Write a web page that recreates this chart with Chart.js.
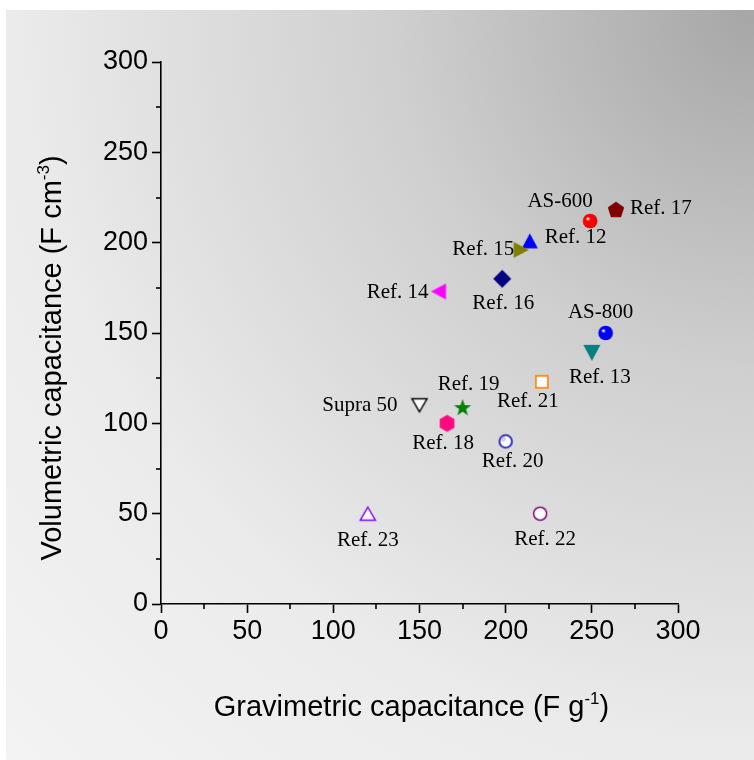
<!DOCTYPE html>
<html><head><meta charset="utf-8">
<script src="https://cdn.jsdelivr.net/npm/chart.js@4"></script>
<style>html,body{margin:0;padding:0;background:#fff;overflow:hidden}
canvas{display:block}</style></head><body>
<canvas id="c" width="754" height="760"></canvas>
<script>
// ---- data ----
const names = ['AS-600','Ref. 17','Ref. 12','Ref. 15','Ref. 16','Ref. 14','AS-800','Ref. 13','Ref. 21','Supra 50','Ref. 19','Ref. 18','Ref. 20','Ref. 23','Ref. 22'];
const gravimetric = [249,264,214,209,198,161,258,250,221,150,175,166,200,120,220];
const volumetric  = [212,218,201,196,180,173,150,139,123,110,109,100,90,50,50];
const xTickValues = [0,50,100,150,200,250,300];
const yTickValues = [0,50,100,150,200,250,300];
const minorTicks = [25,75,125,175,225,275];

// ---- styles ----
const markerDefs = [
  ['sphere','#ff0000'],['pentagon','#800000'],['triUp','#0000ff'],['triRight','#808000'],
  ['diamond','#000080'],['triLeft','#ff00ff'],['sphere','#0000ff'],['triDown','#008080'],
  ['openSquare','#ff8000'],['openTriDown','#000000'],['star','#008000'],['hexagon','#ff0a80'],
  ['openSphere','#2222bb'],['openTriUp','#8000ff'],['openCircle','#800080']
];
// label offsets: [dx, dy, align]
const labelOffsets = [
  [-30,-20,'center'],[14,-2,'left'],[15,-3,'left'],[-7,0,'right'],[1,25,'center'],
  [-10,1,'right'],[-5,-21,'center'],[8,25,'center'],[-14,20,'center'],[-22,0,'right'],
  [6,-23,'center'],[-4,20,'center'],[7,20,'center'],[0,27,'center'],[5,26,'center']
];

function poly(ctx, pts){ctx.beginPath();pts.forEach((p,i)=>i?ctx.lineTo(p[0],p[1]):ctx.moveTo(p[0],p[1]));ctx.closePath();}
function makeMarker(type,color){
  const S=26,c=S/2; const cv=document.createElement('canvas'); cv.width=S; cv.height=S;
  const ctx=cv.getContext('2d'); ctx.lineJoin='miter';
  const tri=(dir,w,h)=>{
    let p;
    if(dir==='up') p=[[c,c-h/2],[c+w/2,c+h/2],[c-w/2,c+h/2]];
    if(dir==='down') p=[[c,c+h/2],[c+w/2,c-h/2],[c-w/2,c-h/2]];
    if(dir==='right') p=[[c+h/2,c],[c-h/2,c-w/2],[c-h/2,c+w/2]];
    if(dir==='left') p=[[c-h/2,c],[c+h/2,c-w/2],[c+h/2,c+w/2]];
    poly(ctx,p);
  };
  const regular=(n,r,rot)=>{const p=[];for(let i=0;i<n;i++){const a=rot+i*2*Math.PI/n;p.push([c+r*Math.cos(a),c+r*Math.sin(a)]);}poly(ctx,p);};
  switch(type){
    case 'sphere':{
      const g=ctx.createRadialGradient(c-2.5,c-2.5,0.5,c,c,7.5);
      g.addColorStop(0,'#ffffff');g.addColorStop(0.25,color);g.addColorStop(0.85,color);
      g.addColorStop(1,color==='#ff0000'?'#b00000':'#0000b0');
      ctx.fillStyle=g;ctx.beginPath();ctx.arc(c,c,7.3,0,2*Math.PI);ctx.fill();break;}
    case 'pentagon': ctx.fillStyle=color; regular(5,8.6,-Math.PI/2); ctx.fill(); break;
    case 'hexagon': ctx.fillStyle=color; regular(6,8.5,-Math.PI/2); ctx.fill(); break;
    case 'diamond': ctx.fillStyle=color; poly(ctx,[[c,c-9],[c+9,c],[c,c+9],[c-9,c]]); ctx.fill(); break;
    case 'triUp': ctx.fillStyle=color; tri('up',16,15); ctx.fill(); break;
    case 'triDown': ctx.fillStyle=color; tri('down',17,16); ctx.fill(); break;
    case 'triLeft': ctx.fillStyle=color; tri('left',16,15); ctx.fill(); break;
    case 'triRight': ctx.fillStyle=color; tri('right',16,15); ctx.fill(); break;
    case 'star':{ctx.fillStyle=color;const p=[];for(let i=0;i<10;i++){const r=i%2?3.6:9;const a=-Math.PI/2+i*Math.PI/5;p.push([c+r*Math.cos(a),c+1+r*Math.sin(a)]);}poly(ctx,p);ctx.fill();break;}
    case 'openSquare': ctx.fillStyle='#fff';ctx.strokeStyle=color;ctx.lineWidth=1.6;ctx.fillRect(c-6,c-6,12,12);ctx.strokeRect(c-6,c-6,12,12);break;
    case 'openTriDown': ctx.fillStyle='#fff';ctx.strokeStyle=color;ctx.lineWidth=1.5;tri('down',15,13);ctx.fill();ctx.stroke();break;
    case 'openTriUp': ctx.fillStyle='#fff';ctx.strokeStyle=color;ctx.lineWidth=1.5;tri('up',15,13);ctx.fill();ctx.stroke();break;
    case 'openCircle': ctx.fillStyle='#fff';ctx.strokeStyle=color;ctx.lineWidth=1.5;ctx.beginPath();ctx.arc(c,c,6.5,0,2*Math.PI);ctx.fill();ctx.stroke();break;
    case 'openSphere':{ctx.fillStyle='#fff';ctx.strokeStyle=color;ctx.lineWidth=1.8;ctx.beginPath();ctx.arc(c,c,6.3,0,2*Math.PI);ctx.fill();ctx.stroke();
      const g=ctx.createRadialGradient(c-2.5,c-2.5,0,c-2.5,c-2.5,2.5);g.addColorStop(0,'#ffffff');g.addColorStop(1,'#8888dd');
      ctx.fillStyle=g;ctx.beginPath();ctx.arc(c-2.5,c-2.5,2.2,0,2*Math.PI);ctx.fill();break;}
  }
  return cv;
}
const markers = markerDefs.map(d=>makeMarker(d[0],d[1]));

const bgPlugin = {
  id:'bg',
  beforeDraw(chart){
    const ctx=chart.ctx; ctx.save();
    ctx.fillStyle='#fff'; ctx.fillRect(0,0,chart.width,chart.height);
    const g=ctx.createRadialGradient(754,10,0,754,10,1060);
    g.addColorStop(0,'#a6a6a6'); g.addColorStop(0.34,'#cfcfcf'); g.addColorStop(0.7,'#ebebeb'); g.addColorStop(1,'#f3f3f3');
    ctx.fillStyle=g; ctx.fillRect(6,10,chart.width-6,chart.height-10);
    ctx.restore();
  }
};

function drawSupText(ctx, parts, x, y, font, supFont){
  let total=0; const widths=parts.map(p=>{ctx.font=p[1]?supFont:font;const w=ctx.measureText(p[0]).width;total+=w;return w;});
  let cx=x-total/2;
  parts.forEach((p,i)=>{ctx.font=p[1]?supFont:font;ctx.fillText(p[0],cx,p[1]?y-12:y);cx+=widths[i];});
}

const decoPlugin = {
  id:'deco',
  afterDraw(chart){
    const ctx=chart.ctx, xs=chart.scales.x, ys=chart.scales.y, a=chart.chartArea;
    ctx.save();
    ctx.strokeStyle='#000'; ctx.lineWidth=1.6;
    minorTicks.forEach(v=>{
      const px=Math.round(xs.getPixelForValue(v));
      ctx.beginPath();ctx.moveTo(px,a.bottom);ctx.lineTo(px,a.bottom+5);ctx.stroke();
      const py=Math.round(ys.getPixelForValue(v));
      ctx.beginPath();ctx.moveTo(a.left,py);ctx.lineTo(a.left-5,py);ctx.stroke();
    });
    ctx.fillStyle='#000'; ctx.textBaseline='alphabetic'; ctx.textAlign='left';
    const font='29px "Liberation Sans", Arial, sans-serif', sup='17px "Liberation Sans", Arial, sans-serif';
    drawSupText(ctx,[['Gravimetric capacitance (F g',false],['-1',true],[')',false]], (a.left+a.right)/2-8, 716, font, sup);
    ctx.translate(61,358); ctx.rotate(-Math.PI/2);
    drawSupText(ctx,[['Volumetric capacitance (F cm',false],['-3',true],[')',false]], 0, 0, font, sup);
    ctx.restore();
  },
  afterDatasetsDraw(chart){
    const ctx=chart.ctx, meta=chart.getDatasetMeta(0);
    ctx.save(); ctx.fillStyle='#000'; ctx.textBaseline='middle';
    ctx.font='21px "Liberation Serif", "Times New Roman", serif';
    meta.data.forEach((pt,i)=>{
      const o=labelOffsets[i]; ctx.textAlign=o[2];
      ctx.fillText(names[i], pt.x+o[0], pt.y+o[1]);
    });
    ctx.restore();
  }
};

const tickFont={family:'"Liberation Sans", Arial, sans-serif',size:27};
new Chart(document.getElementById('c'),{
  type:'scatter',
  data:{datasets:[{
    data: gravimetric.map((x,i)=>({x:x,y:volumetric[i]})),
    pointStyle:(ctx)=>markers[ctx.dataIndex],
    pointRadius:8, borderWidth:0
  }]},
  options:{
    responsive:false, animation:false, devicePixelRatio:1,
    layout:{padding:{left:0,right:76,top:62,bottom:0}},
    plugins:{legend:{display:false},tooltip:{enabled:false}},
    scales:{
      x:{type:'linear',min:0,max:300,
        afterFit(s){s.height=156;},
        afterBuildTicks(s){s.ticks=xTickValues.map(v=>({value:v}));},
        ticks:{font:tickFont,color:'#000',padding:2},
        grid:{drawOnChartArea:false,drawTicks:true,tickLength:9,tickColor:'#000',tickWidth:1.6},
        border:{display:true,color:'#000',width:1.6}},
      y:{type:'linear',min:0,max:300,
        afterFit(s){s.width=161;},
        afterBuildTicks(s){s.ticks=yTickValues.map(v=>({value:v}));},
        ticks:{font:tickFont,color:'#000',padding:4},
        grid:{drawOnChartArea:false,drawTicks:true,tickLength:9,tickColor:'#000',tickWidth:1.6},
        border:{display:true,color:'#000',width:1.6}}
    }
  },
  plugins:[bgPlugin,decoPlugin]
});
</script></body></html>
